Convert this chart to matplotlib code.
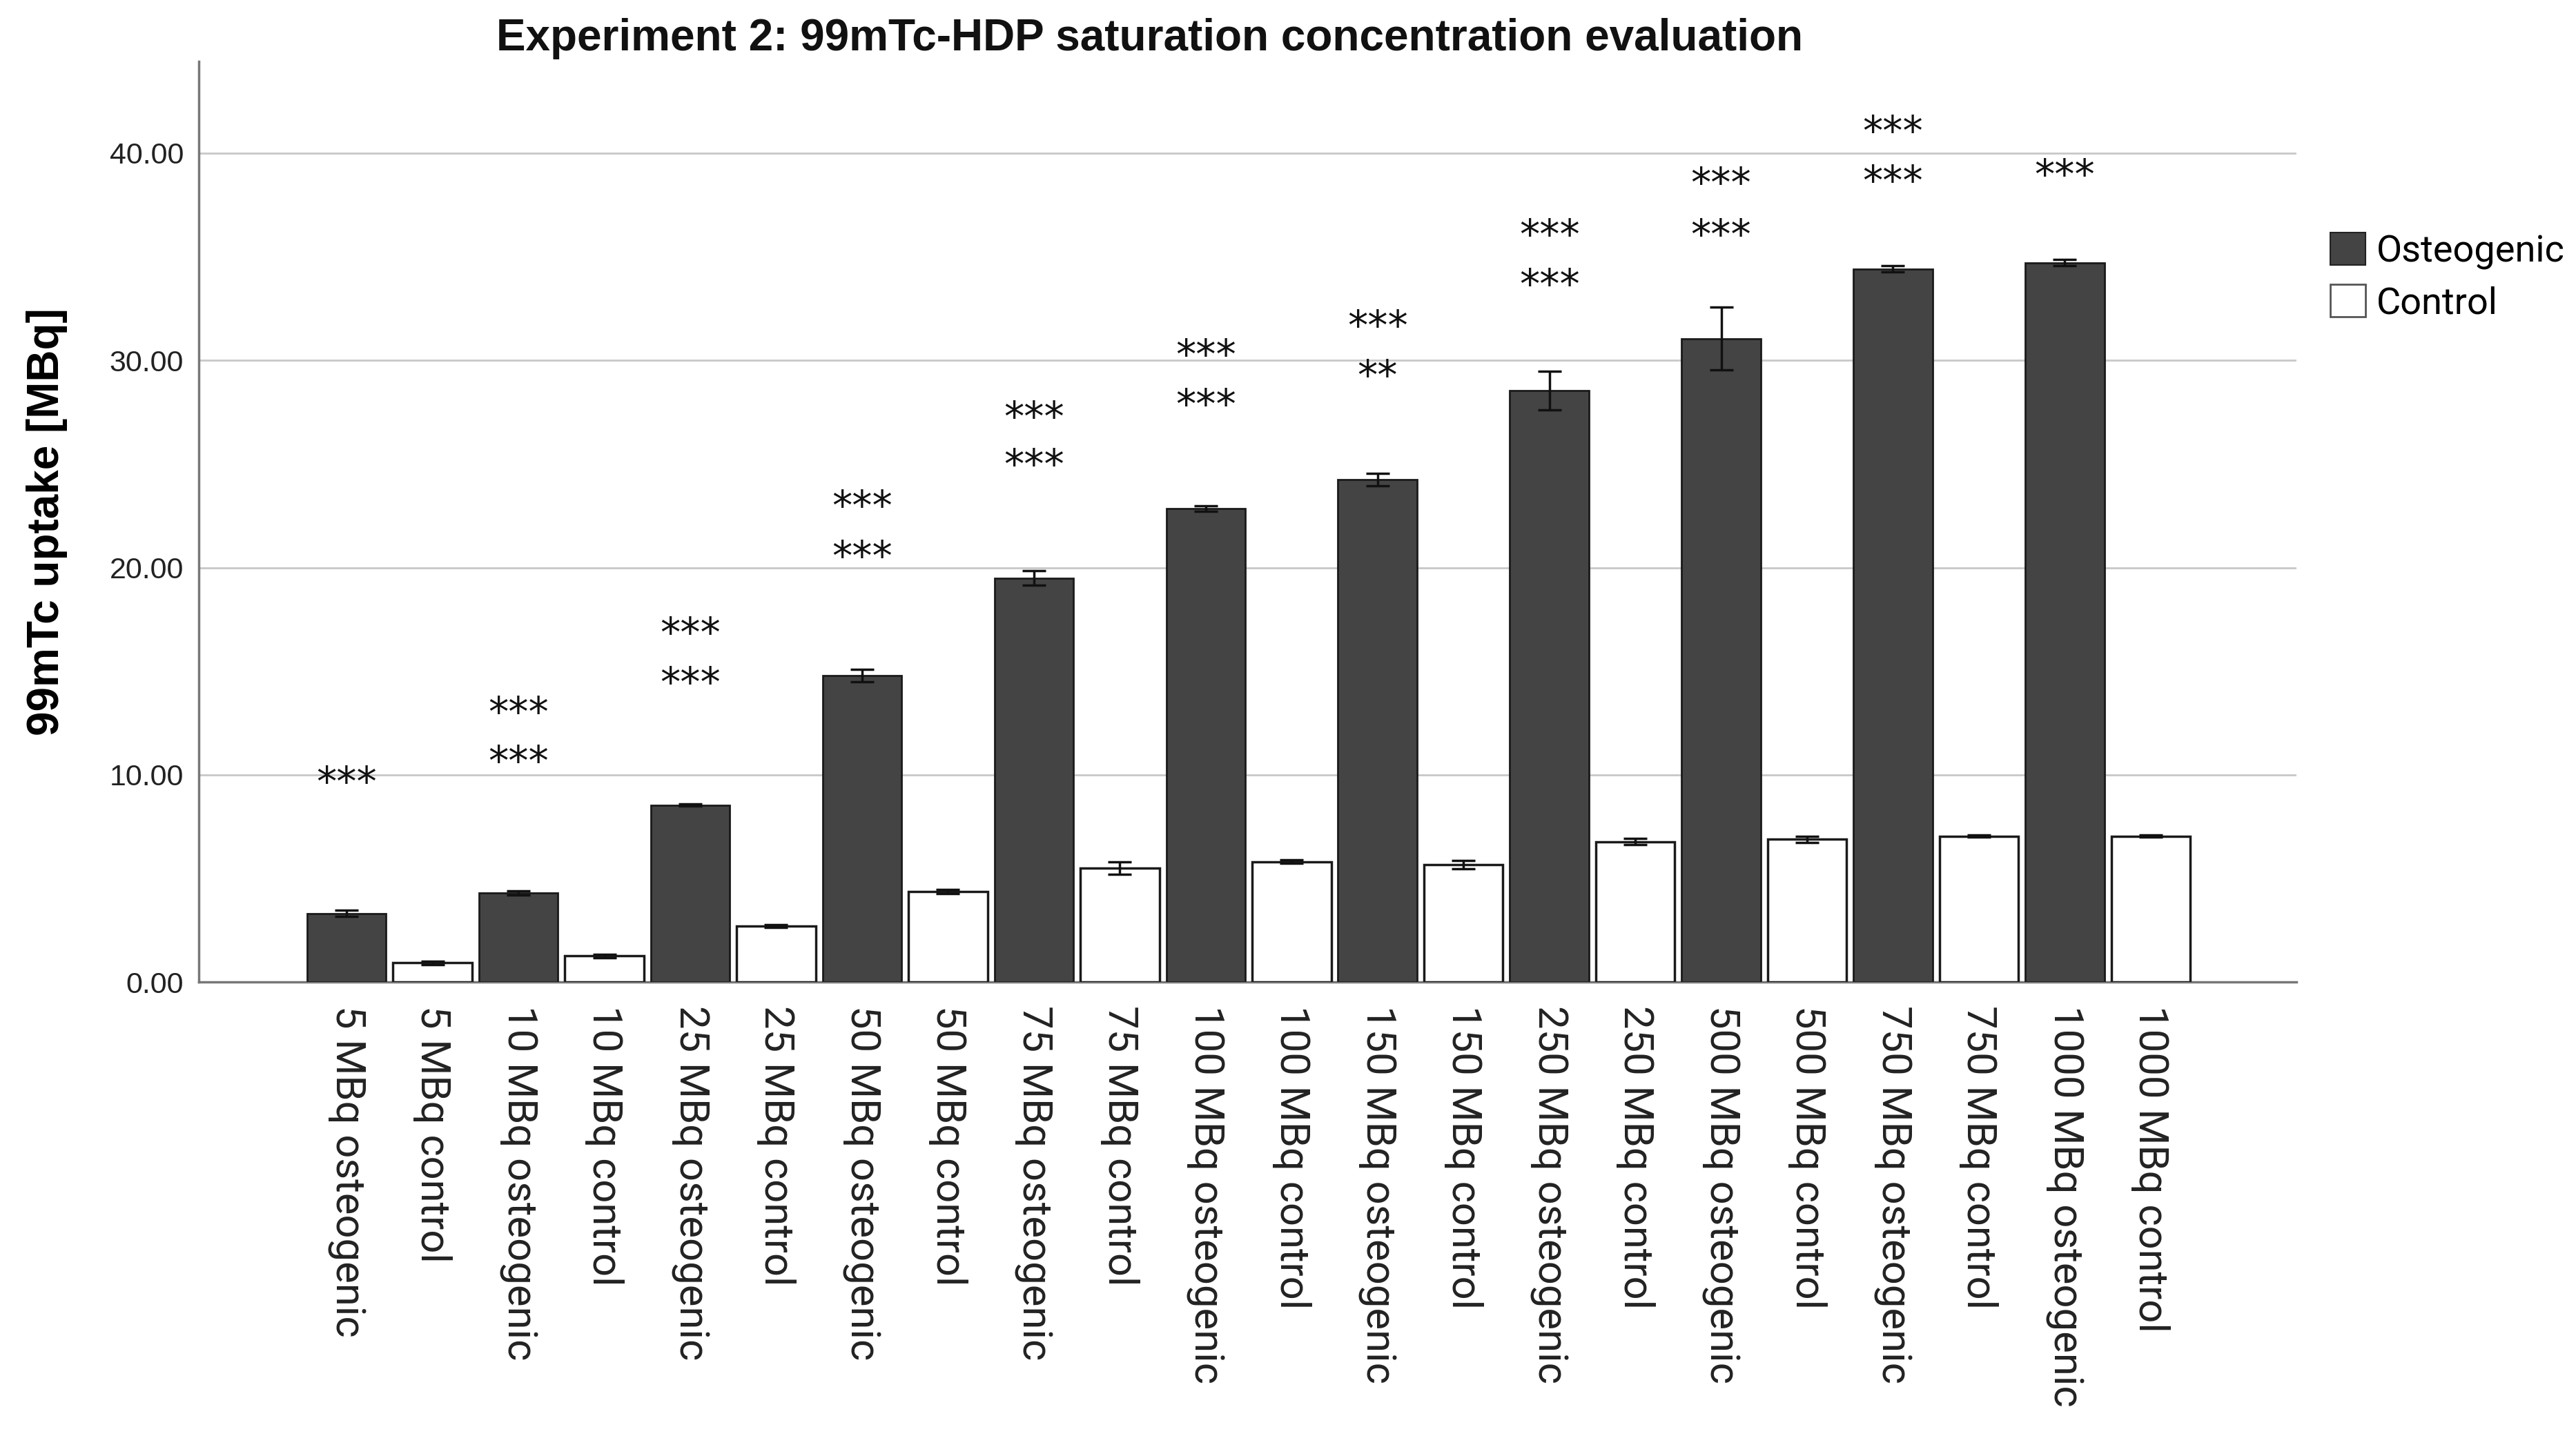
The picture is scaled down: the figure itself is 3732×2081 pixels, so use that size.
import matplotlib
matplotlib.use("Agg")
import matplotlib.pyplot as plt
from matplotlib.patches import Patch
import numpy as np

concentrations = ["5", "10", "25", "50", "75", "100", "150", "250", "500", "750", "1000"]
osteo_means = [3.32, 4.32, 8.54, 14.8, 19.5, 22.85, 24.25, 28.55, 31.05, 34.4, 34.7]
osteo_err = [0.15, 0.1, 0.05, 0.3, 0.35, 0.12, 0.3, 0.93, 1.5, 0.15, 0.15]
control_means = [0.94, 1.27, 2.71, 4.39, 5.51, 5.82, 5.66, 6.78, 6.89, 7.05, 7.05]
control_err = [0.08, 0.08, 0.06, 0.1, 0.3, 0.08, 0.2, 0.15, 0.15, 0.05, 0.05]
star_labels = [["***"], ["***", "***"], ["***", "***"], ["***", "***"], ["***", "***"],
               ["***", "***"], ["***", "**"], ["***", "***"], ["***", "***"], ["***", "***"], ["***"]]
star_heights = [[9.9], [13.25, 10.9], [17.1, 14.7], [23.2, 20.8], [27.5, 25.2], [30.5, 28.1],
                [31.9, 29.5], [36.3, 33.9], [38.8, 36.3], [41.3, 38.9], [39.2]]
yticks = [0, 10, 20, 30, 40]

plt.rcParams['font.family'] = ['Liberation Sans', 'DejaVu Sans']

fig = plt.figure(figsize=(37.32, 20.81), dpi=100)
ax = fig.add_axes([0.0772, 0.316, 0.8144, 0.641])

dark = "#444444"
labels = []
for c in concentrations:
    labels += [f"{c} MBq osteogenic", f"{c} MBq control"]

pos_o = np.arange(len(concentrations)) * 2
pos_c = pos_o + 1
w = 0.92
ax.bar(pos_o, osteo_means, width=w, color=dark, edgecolor="#1a1a1a", linewidth=2.0, zorder=3)
ax.bar(pos_c, control_means, width=w, color="white", edgecolor="#1a1a1a", linewidth=2.5, zorder=3)
ax.errorbar(pos_o, osteo_means, yerr=osteo_err, fmt="none", ecolor="#111111", elinewidth=2.5,
            capsize=12, capthick=2.5, zorder=4)
ax.errorbar(pos_c, control_means, yerr=control_err, fmt="none", ecolor="#111111", elinewidth=2.5,
            capsize=12, capthick=2.5, zorder=4)

for i, (labs, hs) in enumerate(zip(star_labels, star_heights)):
    for lab, h in zip(labs, hs):
        ax.text(pos_o[i], h - 0.35, lab, ha="center", va="center", fontsize=42,
                family="DejaVu Sans", color="#111111", zorder=5)

ax.set_xlim(-1.72, 22.7)
ax.set_ylim(0, 44.4)
ax.set_yticks(yticks)
ax.set_yticklabels([f"{v:.2f}" for v in yticks], fontsize=31, color="#222222")
ax.set_xticks(np.arange(len(labels)))
ax.set_xticklabels(labels, rotation=270, fontsize=43, color="#222222", va="top", ha="center",
                   family="Roboto")
ax.tick_params(axis="both", length=0)
ax.tick_params(axis="y", pad=16)
ax.tick_params(axis="x", pad=24)
ax.yaxis.grid(True, color="#c8c8c8", linewidth=2.0, zorder=0)
ax.set_axisbelow(True)
for s in ["top", "right"]:
    ax.spines[s].set_visible(False)
for s in ["left", "bottom"]:
    ax.spines[s].set_color("#777777")
    ax.spines[s].set_linewidth(2.5)

ax.set_ylabel("99mTc uptake [MBq]", fontsize=46, fontweight="bold")
ax.yaxis.set_label_coords(-0.0625, 0.5)

fig.text(0.4464, 0.973, "Experiment 2: 99mTc-HDP saturation concentration evaluation",
         ha="center", va="center", fontsize=46, fontweight="bold", color="#111111")

handles = [Patch(facecolor=dark, edgecolor="#222222", linewidth=1.5, label="Osteogenic"),
           Patch(facecolor="white", edgecolor="#555555", linewidth=2.0, label="Control")]
fig.legend(handles=handles, loc="upper left", bbox_to_anchor=(0.9045, 0.838), frameon=False,
           prop={"family": "Roboto", "size": 39}, handlelength=0.95, handleheight=0.95,
           handletextpad=0.3, labelspacing=0.4, borderaxespad=0, borderpad=0)

fig.savefig("out.png", dpi=100, facecolor="white")
